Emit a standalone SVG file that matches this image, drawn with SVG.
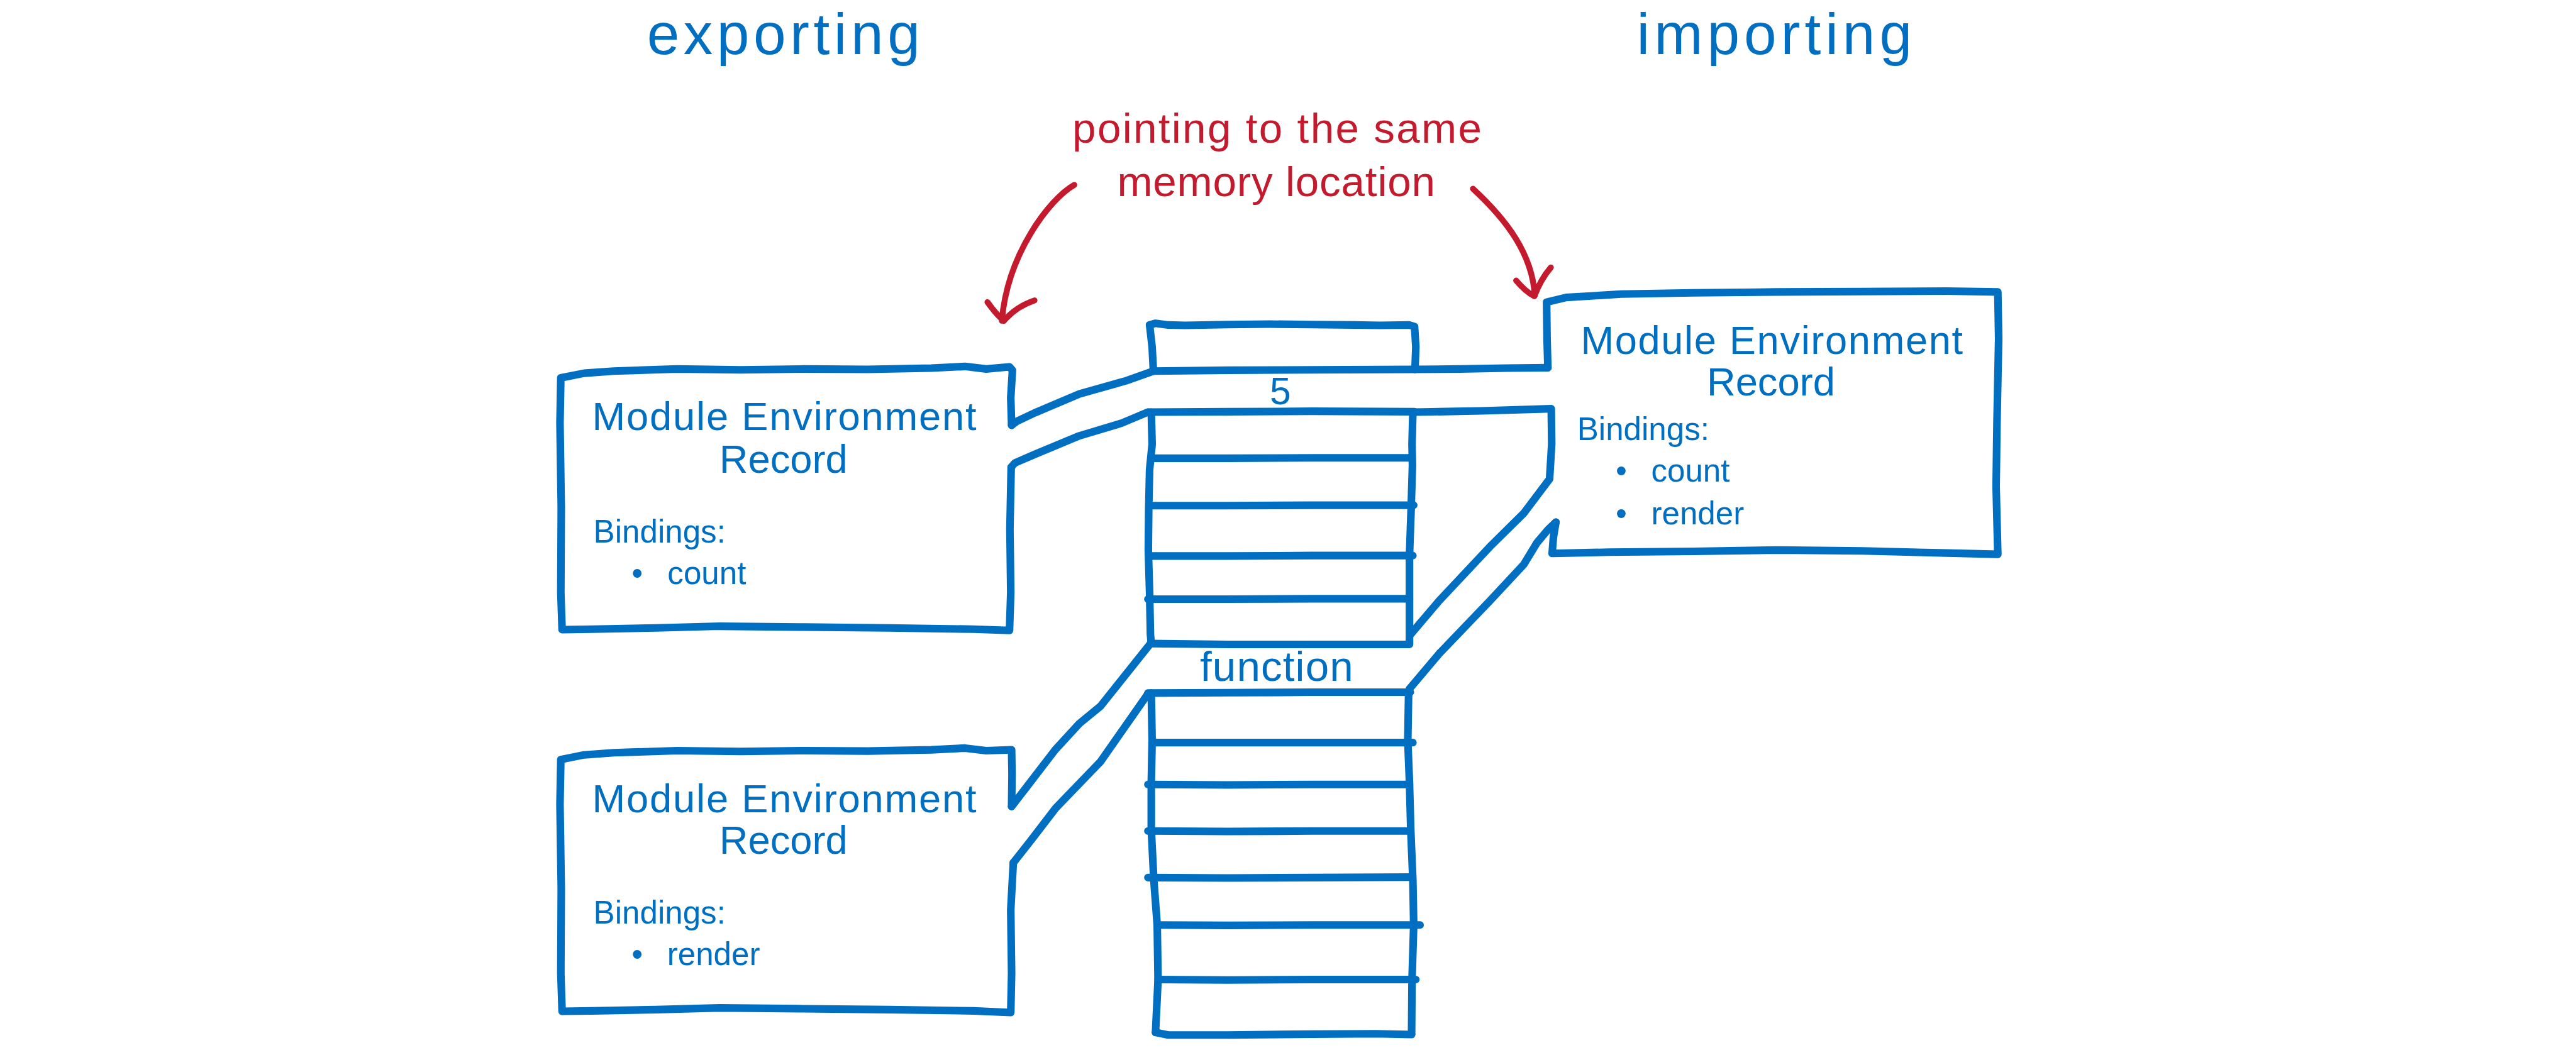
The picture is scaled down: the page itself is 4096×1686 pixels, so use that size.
<svg xmlns="http://www.w3.org/2000/svg" width="4096" height="1686" viewBox="0 0 4096 1686">
<style>
.b{fill:none;stroke:#006EC1;stroke-width:18;stroke-linecap:round;stroke-linejoin:round}
.r{fill:none;stroke:#C41A2D;stroke-width:14;stroke-linecap:round;stroke-linejoin:round}
text{font-family:"Liberation Sans",Arial,sans-serif}
.tb{fill:#006EC1}
.tr{fill:#C41A2D}
.h1{font-size:138px;text-anchor:middle}
.h2{font-size:94px;text-anchor:middle}
.h3{font-size:76px}
.h4{font-size:100px;text-anchor:middle}
</style>
<rect width="4096" height="1686" fill="#ffffff"/>
<g transform="scale(0.67302)">
  <g id="titles">
    <text class="tb h1" x="1851" y="128" textLength="645" lengthAdjust="spacing">exporting</text>
    <text class="tb h1" x="4192" y="128" textLength="650" lengthAdjust="spacing">importing</text>
  </g>
  <g id="annotation">
    <text class="tr h4" x="3017" y="338" textLength="967" lengthAdjust="spacing">pointing to the same</text>
    <text class="tr h4" x="3015" y="463" textLength="751" lengthAdjust="spacing">memory location</text>
  </g>
  <g id="export-record-count">
    <path class="b" d="M2390,1005 L2388,940 L2392,875 L2385,867 L2330,872 L2280,866 L2200,870 L2050,873 L1900,872 L1750,874 L1600,872 L1450,877 L1380,882 L1325,893 L1323,1000 L1326,1200 L1325,1400 L1328,1488 L1400,1487 L1550,1484 L1700,1480 L1900,1482 L2100,1484 L2300,1487 L2385,1490 L2388,1400 L2386,1250 L2389,1104"/>
    <text class="tb h2" x="1853" y="1016" textLength="908" lengthAdjust="spacing">Module Environment</text>
    <text class="tb h2" x="1851" y="1117">Record</text>
    <text class="tb h3" x="1402" y="1282">Bindings:</text>
    <text class="tb h3" y="1380"><tspan x="1492">•</tspan><tspan x="1577">count</tspan></text>
  </g>
  <g id="export-record-render">
    <path class="b" d="M2390,1906 L2391,1830 L2390,1772 L2330,1774 L2280,1768 L2200,1772 L2050,1775 L1900,1774 L1750,1776 L1600,1774 L1450,1779 L1380,1784 L1325,1795 L1323,1900 L1326,2100 L1325,2300 L1328,2390 L1400,2389 L1550,2386 L1700,2382 L1900,2384 L2100,2386 L2300,2389 L2388,2393 L2390,2300 L2388,2150 L2394,2039"/>
    <text class="tb h2" x="1853" y="1919" textLength="908" lengthAdjust="spacing">Module Environment</text>
    <text class="tb h2" x="1851" y="2018">Record</text>
    <text class="tb h3" x="1402" y="2183">Bindings:</text>
    <text class="tb h3" y="2281"><tspan x="1492">•</tspan><tspan x="1576">render</tspan></text>
  </g>
  <g id="import-record">
    <path class="b" d="M3657,869 L3655,800 L3654,714 L3700,703 L3830,695 L4000,692 L4200,690 L4400,689 L4600,688 L4720,690 L4722,800 L4718,1000 L4716,1150 L4720,1310 L4600,1307 L4400,1302 L4200,1300 L4000,1303 L3800,1305 L3667,1308 L3670,1270 L3676,1234"/>
    <text class="tb h2" x="4186" y="836" textLength="903" lengthAdjust="spacing">Module Environment</text>
    <text class="tb h2" x="4184" y="935">Record</text>
    <text class="tb h3" x="3726" y="1040">Bindings:</text>
    <text class="tb h3" y="1138"><tspan x="3817">•</tspan><tspan x="3901">count</tspan></text>
    <text class="tb h3" y="1239"><tspan x="3817">•</tspan><tspan x="3901">render</tspan></text>
  </g>
  <g id="memory">
    <path class="b" d="M2725,877 L2722,820 L2716,768 L2730,764 L2760,768 L2800,769 L2900,767 L3000,766 L3100,767 L3200,768 L3260,769 L3330,768 L3342,772 L3345,820 L3343,873"/>
    <path class="b" d="M2725,877 L2900,875 L3100,874 L3343,873"/>
    <text class="tb" x="3025" y="955" font-size="90" text-anchor="middle">5</text>
    <path class="b" d="M2712,974 L2900,973 L3100,972 L3342,973"/>
    <path class="b" d="M2720,974 L2722,1050 L2716,1110 L2714,1200 L2713,1300 L2716,1400 L2718,1500 L2720,1521"/>
    <path class="b" d="M3338,974 L3336,1050 L3337,1100 L3334,1200 L3330,1314 L3330,1400 L3330,1521"/>
    <path class="b" d="M2722,1083 L2900,1083 L3100,1082 L3336,1082"/>
    <path class="b" d="M2720,1195 L2900,1195 L3100,1194 L3340,1194"/>
    <path class="b" d="M2722,1314 L2900,1314 L3100,1313 L3338,1313"/>
    <path class="b" d="M2712,1416 L2900,1416 L3100,1415 L3330,1415"/>
    <path class="b" d="M2718,1521 L2900,1523 L3100,1523 L3330,1523"/>
    <text class="tb" x="3016" y="1609" font-size="100" text-anchor="middle" textLength="362" lengthAdjust="spacing">function</text>
    <path class="b" d="M2712,1638 L2900,1637 L3100,1636 L3332,1636"/>
    <path class="b" d="M2720,1638 L2722,1750 L2720,1850 L2720,1960 L2726,2080 L2734,2186 L2736,2315 L2730,2440"/>
    <path class="b" d="M3328,1636 L3326,1750 L3330,1850 L3333,1960 L3338,2080 L3340,2186 L3336,2315 L3335,2443"/>
    <path class="b" d="M2722,1755 L2900,1755 L3100,1755 L3338,1755"/>
    <path class="b" d="M2712,1854 L2900,1855 L3100,1854 L3330,1854"/>
    <path class="b" d="M2712,1964 L2900,1965 L3100,1964 L3332,1964"/>
    <path class="b" d="M2712,2074 L2900,2075 L3100,2074 L3330,2073"/>
    <path class="b" d="M2734,2186 L2900,2187 L3100,2186 L3355,2186"/>
    <path class="b" d="M2736,2315 L2900,2316 L3100,2315 L3345,2315"/>
    <path class="b" d="M2730,2440 L2760,2446 L2900,2446 L3100,2444 L3250,2443 L3335,2445"/>
  </g>
  <g id="connectors">
    <path class="b" d="M2390,1005 L2402,996 L2444,976 L2550,931 L2660,900 L2725,877"/>
    <path class="b" d="M2389,1104 L2398,1094 L2444,1074 L2550,1030 L2650,1000 L2712,974"/>
    <path class="b" d="M3343,873 L3450,872 L3560,870 L3657,869"/>
    <path class="b" d="M3342,974 L3500,971 L3665,966 L3666,1050 L3661,1132 L3640,1160 L3600,1213 L3520,1292 L3400,1420 L3332,1500"/>
    <path class="b" d="M3676,1234 L3657,1252 L3631,1283 L3600,1334 L3520,1420 L3400,1545 L3330,1628"/>
    <path class="b" d="M2390,1906 L2427,1858 L2493,1772 L2550,1710 L2600,1669 L2718,1521"/>
    <path class="b" d="M2394,2039 L2435,1987 L2494,1910 L2600,1800 L2712,1640"/>
    <path class="r" d="M2538,437 C2480,470 2380,600 2367,758"/>
    <path class="r" d="M2333,714 Q2355,745 2372,758 Q2400,725 2444,710"/>
    <path class="r" d="M3480,446 C3560,520 3620,600 3626,698"/>
    <path class="r" d="M3582,663 Q3605,690 3625,700 Q3640,660 3664,632"/>
  </g>
</g>
</svg>
